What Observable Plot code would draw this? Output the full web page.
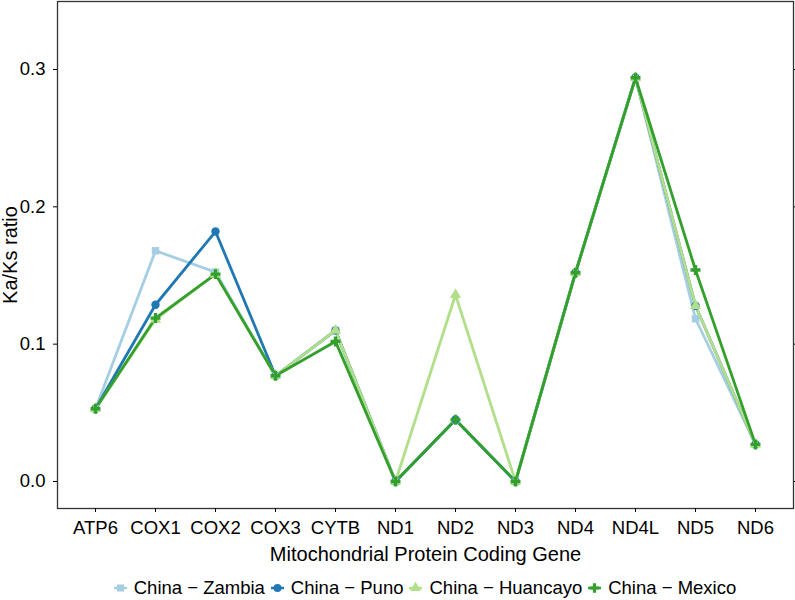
<!DOCTYPE html>
<html>
<head>
<meta charset="utf-8">
<script src="https://cdn.jsdelivr.net/npm/d3@7"></script>
<script src="https://cdn.jsdelivr.net/npm/@observablehq/plot@0.6"></script>
<style>
  html, body { margin: 0; padding: 0; background: #fff; overflow: hidden; }
  body { width: 795px; height: 600px; font-family: "Liberation Sans", Arial, sans-serif; }
  #chart svg { display: block; overflow: hidden; }
  #chart svg text { font-size: 18.5px; fill: #000; }
  #chart svg g[aria-label="x-axis label"] text, #chart svg g[aria-label="y-axis label"] text { font-size: 20px; }
  #legend { display: flex; justify-content: center; align-items: center; width: 736px; margin-left: 57px; margin-top: 7px; font-size: 18.5px; color: #000; line-height: 22px; }
  .item { display: flex; align-items: center; margin: 0 3px; }
  .item svg { margin-right: 7px; }
</style>
</head>
<body>
<div id="chart"></div>
<div id="legend"></div>
<script>
const genes = ["ATP6","COX1","COX2","COX3","CYTB","ND1","ND2","ND3","ND4","ND4L","ND5","ND6"];
const seriesNames = ["China − Zambia","China − Puno","China − Huancayo","China − Mexico"];
const colors = ["#A6CEE3","#1F78B4","#B2DF8A","#33A02C"];
const symbols = ["square","circle","triangle","cross"];
const zambia   = [0.053,0.168,0.1525,0.077,0.110,0,0.045,0,0.152,0.294,0.1185,0.027];
const puno     = [0.053,0.1287,0.182,0.077,0.110,0,0.045,0,0.152,0.294,0.128,0.027];
const huancayo = [0.053,0.118,0.151,0.077,0.110,0,0.136,0,0.152,0.294,0.128,0.027];
const mexico   = [0.053,0.119,0.151,0.077,0.102,0,0.045,0,0.152,0.294,0.154,0.027];
const yTicks = [0, 0.1, 0.2, 0.3];

const allSeries = [zambia, puno, huancayo, mexico];
const data = [];
allSeries.forEach((vals, si) => vals.forEach((v, gi) => data.push({gene: genes[gi], value: v, series: seriesNames[si]})));

const plot = Plot.plot({
  width: 795,
  height: 570,
  marginLeft: 57,
  marginRight: 2,
  marginTop: 1,
  marginBottom: 62,
  style: {fontFamily: "Liberation Sans, Arial, sans-serif", fontSize: "18px", color: "#000", background: "#fff"},
  x: {type: "point", domain: genes, padding: 0.55},
  y: {domain: [-0.01966, 0.34951]},
  color: {domain: seriesNames, range: colors},
  symbol: {domain: seriesNames, range: symbols},
  marks: [
    Plot.frame({stroke: "#333", strokeWidth: 1.3}),
    Plot.axisY({ticks: yTicks, tickFormat: d3.format(".1f"), tickSize: 4, tickPadding: 8, label: "Ka/Ks ratio", labelAnchor: "center", labelOffset: 55, labelArrow: "none"}),
    Plot.axisY({anchor: "right", ticks: yTicks, tickFormat: () => "", tickSize: 4, label: null}),
    Plot.axisX({tickSize: 4, tickPadding: 8, label: "Mitochondrial Protein Coding Gene", labelAnchor: "center", labelOffset: 52, labelArrow: "none"}),
    Plot.line(data, {x: "gene", y: "value", z: "series", stroke: "series", strokeWidth: 2.8}),
    Plot.dot(data, {x: "gene", y: "value", fill: "series", symbol: "series", r: 4.2, stroke: null})
  ]
});
document.getElementById("chart").appendChild(plot);

const legend = d3.select("#legend");
seriesNames.forEach((name, i) => {
  const item = legend.append("div").attr("class", "item");
  const svg = item.append("svg").attr("width", 13).attr("height", 14);
  svg.append("line").attr("x1", 0).attr("x2", 13).attr("y1", 7).attr("y2", 7).attr("stroke", colors[i]).attr("stroke-width", 2.5);
  const sym = {square: d3.symbolSquare, circle: d3.symbolCircle, triangle: d3.symbolTriangle, cross: d3.symbolCross}[symbols[i]];
  svg.append("path").attr("d", d3.symbol(sym, 50)()).attr("transform", "translate(6.5,7)").attr("fill", colors[i]);
  item.append("span").text(name);
});
</script>
</body>
</html>
